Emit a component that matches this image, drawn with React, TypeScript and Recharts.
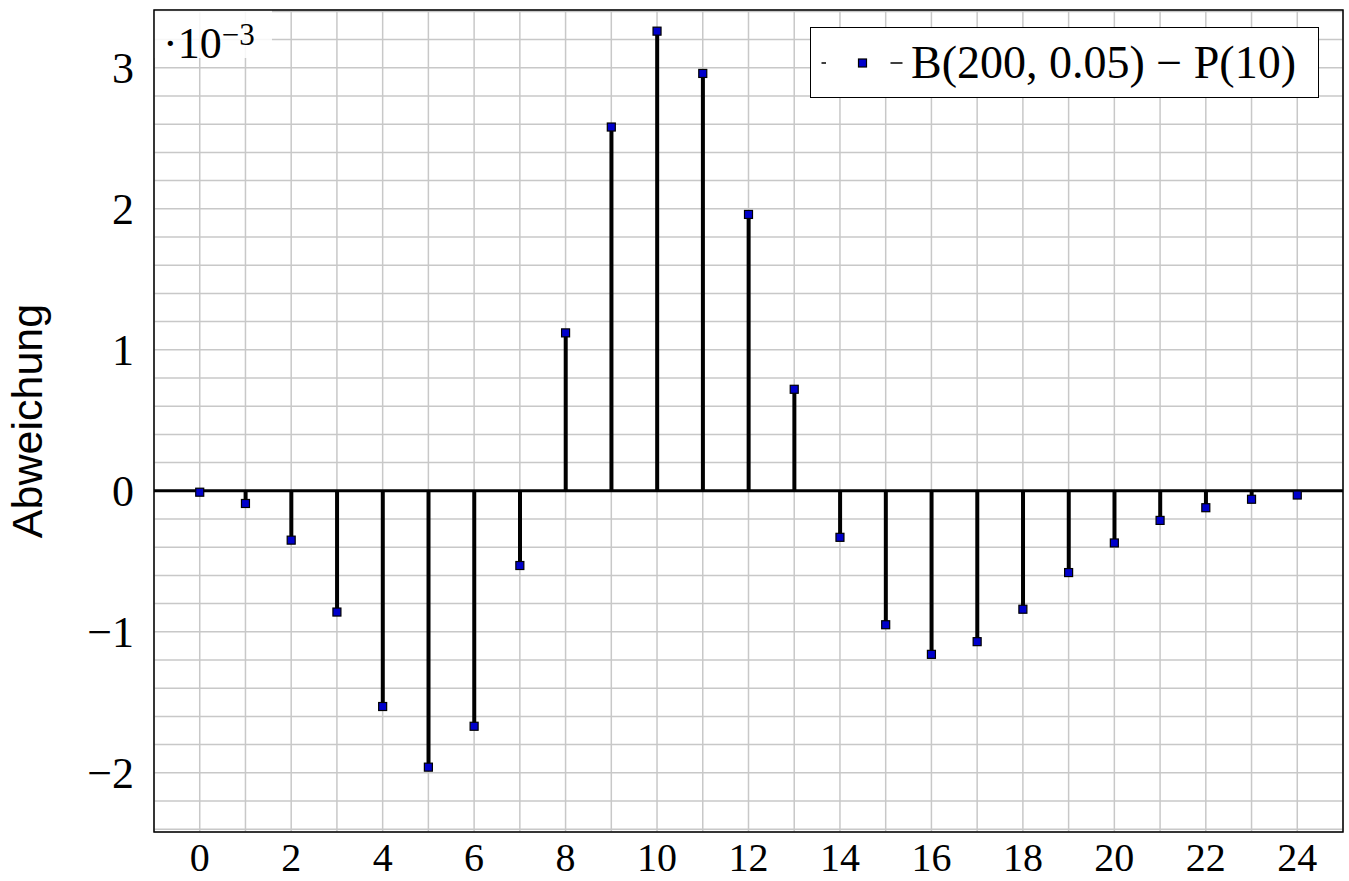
import {
  ComposedChart,
  Bar,
  Scatter,
  XAxis,
  YAxis,
  CartesianGrid,
  ReferenceLine,
  ReferenceArea,
  Legend,
} from "recharts";

// k = 0..24, deviation B(200,0.05) - P(10) in units of 1e-3
const ks = [0, 1, 2, 3, 4, 5, 6, 7, 8, 9, 10, 11, 12, 13, 14, 15, 16, 17, 18, 19, 20, 21, 22, 23, 24];
const deviation = [
  -0.01, -0.09, -0.35, -0.86, -1.53, -1.96, -1.67, -0.53, 1.12, 2.58, 3.26, 2.96, 1.96,
  0.72, -0.33, -0.95, -1.16, -1.07, -0.84, -0.58, -0.37, -0.21, -0.12, -0.06, -0.03,
];
const xTicks = [-1, 0, 1, 2, 3, 4, 5, 6, 7, 8, 9, 10, 11, 12, 13, 14, 15, 16, 17, 18, 19, 20, 21, 22, 23, 24, 25];
const yTicks = [
  -2.4, -2.2, -2, -1.8, -1.6, -1.4, -1.2, -1, -0.8, -0.6, -0.4, -0.2, 0, 0.2, 0.4, 0.6, 0.8,
  1, 1.2, 1.4, 1.6, 1.8, 2, 2.2, 2.4, 2.6, 2.8, 3, 3.2, 3.4,
];
const xDomain = [-1, 25];
const yDomain = [-2.42, 3.41];
const seriesName = "B(200, 0.05) − P(10)";

const data = ks.map((k, i) => ({ k, v: deviation[i] }));

const serif = "'Liberation Serif', 'DejaVu Serif', serif";
const markerFill = "#0000cc";

const fmtX = (v: number) => (v >= 0 && v <= 24 && v % 2 === 0 ? String(v) : "");
const fmtY = (v: number) => {
  if (Math.abs(v - Math.round(v)) > 1e-6) return "";
  const r = Math.round(v);
  return r < 0 ? `−${-r}` : String(r);
};

const Square = (props: any) => {
  const { cx, cy } = props;
  if (cx == null || cy == null) return null;
  return (
    <rect x={cx - 4} y={cy - 4} width={8} height={8} fill={markerFill} stroke="#000" strokeWidth={1.2} />
  );
};

const YLabel = (props: any) => {
  const vb = props.viewBox || {};
  const cy = (vb.y ?? 10) + (vb.height ?? 822) / 2;
  const x = 42;
  return (
    <text
      x={x}
      y={cy}
      textAnchor="middle"
      transform={`rotate(-90, ${x}, ${cy})`}
      fontFamily="'Liberation Sans', Arial, sans-serif"
      fontSize={43}
      fill="#000"
    >
      Abweichung
    </text>
  );
};

const LegendBox = () => (
  <div
    style={{
      boxSizing: "border-box",
      width: 509,
      height: 71,
      border: "1.5px solid #000",
      background: "#fff",
      display: "flex",
      alignItems: "center",
      paddingLeft: 10,
    }}
  >
    <svg width={90} height={20} style={{ flex: "none" }}>
      <line x1={0.5} y1={10} x2={5} y2={10} stroke="#000" strokeWidth={1.5} />
      <rect x={37.5} y={6} width={8} height={8} fill={markerFill} stroke="#000" strokeWidth={1.2} />
      <line x1={69.5} y1={10} x2={81.5} y2={10} stroke="#000" strokeWidth={1.5} />
    </svg>
    <span style={{ fontFamily: serif, fontSize: 46, lineHeight: 1, whiteSpace: "nowrap" }}>
      {seriesName}
    </span>
  </div>
);

export default function App() {
  return (
    <div>
      <style>{`body{margin:0;background:#fff}`}</style>
      <ComposedChart width={1349} height={881} data={data} margin={{ top: 10, right: 6, bottom: 0, left: 0 }}>
        <CartesianGrid stroke="#c8c8c8" strokeWidth={1.5} />
        <XAxis
          dataKey="k"
          type="number"
          domain={xDomain}
          ticks={xTicks}
          interval={0}
          tickFormatter={fmtX}
          tick={{ fill: "#000", fontSize: 40, fontFamily: serif }}
          axisLine={false}
          tickLine={false}
          tickMargin={5}
          height={49}
          allowDataOverflow
        />
        <YAxis
          type="number"
          domain={yDomain}
          ticks={yTicks}
          interval={0}
          tickFormatter={fmtY}
          tick={{ fill: "#000", fontSize: 44, fontFamily: serif }}
          axisLine={false}
          tickLine={false}
          tickMargin={14}
          width={154}
          allowDataOverflow
          label={<YLabel />}
        />
        <ReferenceArea x1={-1} x2={1.58} y1={3.07} y2={3.41} fill="#fff" fillOpacity={0.85} stroke="none" />
        <ReferenceLine y={0} stroke="#000" strokeWidth={3} />
        <Bar dataKey="v" barSize={4} fill="#000" isAnimationActive={false} legendType="none" />
        <Scatter dataKey="v" name={seriesName} shape={<Square />} isAnimationActive={false} />
        <ReferenceArea
          x1={-1}
          x2={25}
          y1={-2.42}
          y2={3.41}
          fill="none"
          stroke="#000"
          strokeWidth={1.5}
          ifOverflow="visible"
        />
        <Legend
          layout="horizontal"
          verticalAlign="middle"
          align="center"
          wrapperStyle={{ top: 27, left: 810, width: 509, height: 71 }}
          content={() => <LegendBox />}
        />
      </ComposedChart>
      <div
        style={{
          position: "absolute",
          left: 163,
          top: 16,
          fontFamily: serif,
          fontSize: 44,
          lineHeight: 1,
          color: "#000",
          pointerEvents: "none",
        }}
      >
        ·10<sup style={{ fontSize: 31, position: "relative", top: 3 }}>−3</sup>
      </div>
    </div>
  );
}
